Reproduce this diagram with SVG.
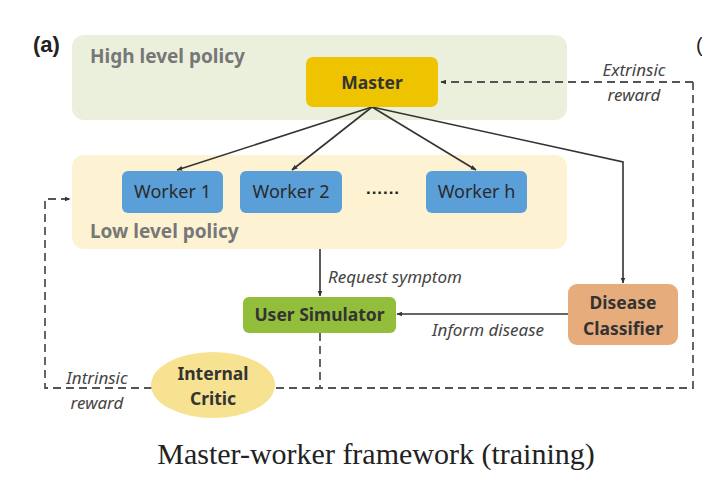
<svg xmlns="http://www.w3.org/2000/svg" width="702" height="503" viewBox="0 0 702 503">
<defs>
<style>
.lbl{font-family:"Noto Sans","Open Sans",sans-serif;font-weight:bold;fill:#333;text-anchor:middle;font-size:17.5px}
.wk{font-family:"Noto Sans","Open Sans",sans-serif;fill:#2a2a2a;text-anchor:middle;font-size:18px}
.it{font-family:"Noto Sans","Open Sans",sans-serif;font-style:italic;fill:#444;text-anchor:middle;font-size:17px}
.grp{font-family:"Noto Sans","Open Sans",sans-serif;font-weight:bold;fill:#777;font-size:19px}
.solid{stroke:#333;stroke-width:1.6;fill:none}
.dash{stroke:#555;stroke-width:1.8;fill:none;stroke-dasharray:8,5}
</style>
<marker id="ah" viewBox="0 0 10 10" refX="9" refY="5" markerWidth="6" markerHeight="6" orient="auto" markerUnits="userSpaceOnUse">
<path d="M0,1 L10,5 L0,9 z" fill="#333"/>
</marker>
</defs>
<rect width="702" height="503" fill="#fff"/>
<text x="33" y="52" font-family="Liberation Sans,Arial,sans-serif" font-weight="bold" font-size="22" fill="#222">(a)</text>
<text x="696" y="52" font-family="Liberation Sans,Arial,sans-serif" font-size="20" fill="#222">(</text>
<g id="high-level-policy">
<rect x="72" y="35" width="495" height="85" rx="12" fill="#EBF0DC"/>
<text class="grp" x="90" y="63">High level policy</text>
</g>
<g id="low-level-policy">
<rect x="72" y="155" width="495" height="94" rx="12" fill="#FDF3D3"/>
<text class="grp" x="90" y="238">Low level policy</text>
</g>
<g id="connectors">
<line class="solid" x1="372" y1="107" x2="177" y2="170" marker-end="url(#ah)"/>
<line class="solid" x1="372" y1="107" x2="292" y2="170" marker-end="url(#ah)"/>
<line class="solid" x1="372" y1="107" x2="476" y2="170" marker-end="url(#ah)"/>
<polyline class="solid" points="372,107 623,162 623,283" marker-end="url(#ah)"/>
<line class="solid" x1="320" y1="249" x2="320" y2="296" marker-end="url(#ah)"/>
<line class="solid" x1="568" y1="314" x2="397" y2="314" marker-end="url(#ah)"/>
<polyline class="dash" points="693,82 693,388 275,388"/>
<line class="dash" x1="693" y1="82" x2="441" y2="82" marker-end="url(#ah)"/>
<line class="dash" x1="320" y1="333" x2="320" y2="388"/>
<polyline class="dash" points="152,388 45,388 45,199 70,199" marker-end="url(#ah)"/>
<text class="it" x="634" y="76">Extrinsic</text>
<text class="it" x="634" y="101">reward</text>
<text class="it" x="395" y="283">Request symptom</text>
<text class="it" x="488" y="336">Inform disease</text>
<text class="it" x="97" y="384">Intrinsic</text>
<text class="it" x="97" y="409">reward</text>
</g>
<g id="master">
<rect x="306" y="57" width="132" height="50" rx="7" fill="#EEC300"/>
<text class="lbl" x="372" y="89">Master</text>
</g>
<g id="worker-1">
<rect x="122" y="171" width="101" height="42" rx="6" fill="#5B9FD8"/>
<text class="wk" x="172.5" y="198">Worker 1</text>
</g>
<g id="worker-2">
<rect x="240" y="171" width="102" height="42" rx="6" fill="#5B9FD8"/>
<text class="wk" x="291" y="198">Worker 2</text>
</g>
<g id="ellipsis">
<text x="383" y="198" font-family="Liberation Sans,Arial,sans-serif" font-weight="bold" font-size="17" fill="#222" text-anchor="middle">······</text>
</g>
<g id="worker-h">
<rect x="426" y="171" width="101" height="42" rx="6" fill="#5B9FD8"/>
<text class="wk" x="476.5" y="198">Worker h</text>
</g>
<g id="user-simulator">
<rect x="243" y="297" width="153" height="36" rx="6" fill="#92BE3C"/>
<text class="lbl" x="319.5" y="321">User Simulator</text>
</g>
<g id="disease-classifier">
<rect x="568" y="284" width="110" height="61" rx="9" fill="#E6AC7C"/>
<text class="lbl" x="623" y="309">Disease</text>
<text class="lbl" x="623" y="335">Classifier</text>
</g>
<g id="internal-critic">
<ellipse cx="213" cy="385" rx="62" ry="33" fill="#F6E291"/>
<text class="lbl" x="213" y="380">Internal</text>
<text class="lbl" x="213" y="405">Critic</text>
</g>
<text x="376" y="464" font-family="Liberation Serif,Times New Roman,serif" font-size="30" fill="#222" text-anchor="middle">Master-worker framework (training)</text>
</svg>
